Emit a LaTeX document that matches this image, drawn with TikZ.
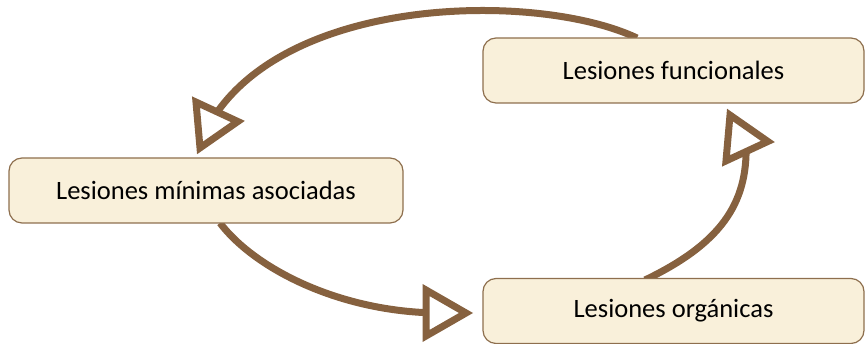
\documentclass[tikz,border=0pt]{standalone}
\usepackage{fontspec}
\setmainfont{Carlito}
\usetikzlibrary{calc}
\definecolor{barkbrown}{HTML}{86613F}
\definecolor{boxedge}{HTML}{8E6F4E}
\definecolor{cream}{HTML}{F9F0DA}
\tikzset{
	% ------- every something
	every node/.style={
		font=\fontsize{26.5}{30}\selectfont,
	},
	% ------- custom
	lesion/.style={
		draw=boxedge, fill=cream, line width=1.2pt,
		rounded corners=13pt,
		minimum height=65pt,
		inner sep=0pt,
	},
	cycle line/.style={
		draw=barkbrown, line width=7pt,
	},
	openhead/.pic={
		\filldraw[draw=barkbrown, fill=white, line width=7pt, line join=miter]
			(0,23) -- (40,0) -- (0,-23) -- cycle;
	},
}

\begin{document}
\begin{tikzpicture}[x=1pt, y=1pt]

% frame %{{{1

	\useasboundingbox (0,0) rectangle (865,344);

% coordinates %{{{1

	\coordinate (h1) at (198,219);
	\coordinate (h2) at (426,31);
	\coordinate (h3) at (728,206);

	\coordinate (e1) at (212,224);
	\coordinate (e2) at (438,31);
	\coordinate (e3) at (746,200);

% curved connectors %{{{1

	\path[cycle line] (637,306) .. controls (540,352) and (290,350) .. (e1);
	\path[cycle line] (220,121) .. controls (255,75) and (340,32) .. (e2);
	\path[cycle line] (645,64) .. controls (720,100) and (748,140) .. (e3);

% boxes %{{{1

	\node[lesion, minimum width=381pt] (func)    at (673.5,273.5) {Lesiones funcionales};
	\node[lesion, minimum width=394pt] (minimas) at (206,153.5)   {Lesiones mínimas asociadas};
	\node[lesion, minimum width=381pt] (organ)   at (673.5,33)    {Lesiones orgánicas};

% arrow heads %{{{1

	\pic[rotate=5]  at (h1) {openhead};
	\pic            at (h2) {openhead};
	\pic[rotate=-5] at (h3) {openhead};

% closing %{{{1

\end{tikzpicture}
\end{document}
